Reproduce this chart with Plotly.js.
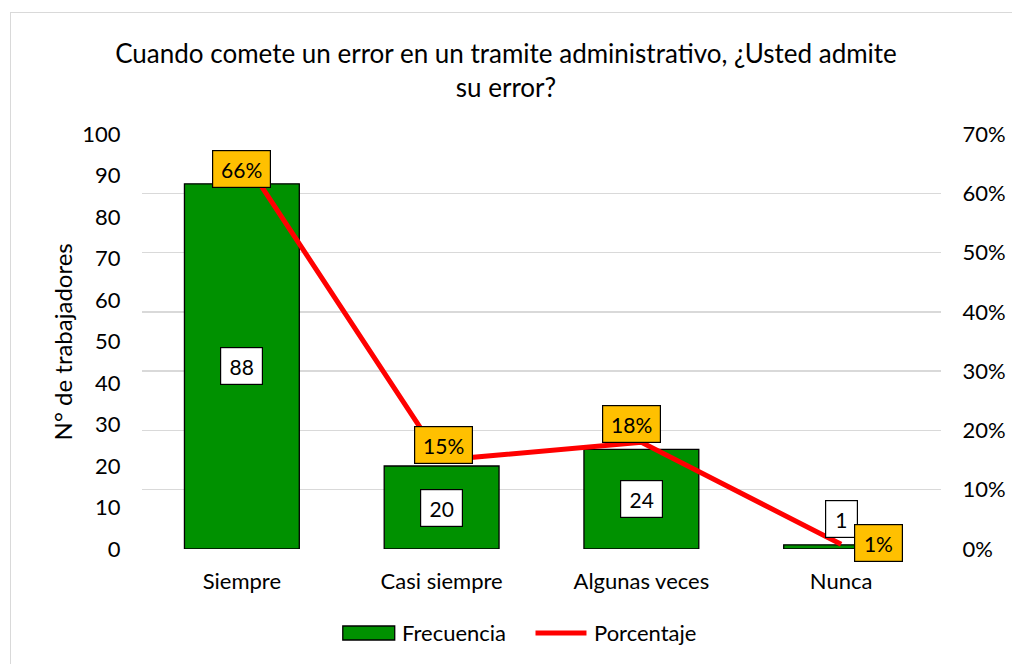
<!DOCTYPE html>
<html>
<head>
<meta charset="utf-8">
<script src="https://cdn.plot.ly/plotly-3.0.1.min.js"></script>
<style>
  html, body { margin: 0; padding: 0; background: #fff; }
  #frame { position: absolute; left: 10px; top: 12px; width: 1010px; height: 670px; border: 1px solid #d9d9d9; box-sizing: border-box; }
  #chart { position: absolute; left: 0; top: 0; width: 1012px; height: 664px; }
</style>
</head>
<body>
<div id="frame"></div>
<div id="chart"></div>
<script>
// ---- data ----
const categories = ["Siempre", "Casi siempre", "Algunas veces", "Nunca"];
const frecuencia = [88, 20, 24, 1];
const porcentaje = [0.662, 0.150, 0.180, 0.008];
const porcentajeLabels = ["66%", "15%", "18%", "1%"];
const seriesNames = ["Frecuencia", "Porcentaje"];
const leftTicks = [0, 10, 20, 30, 40, 50, 60, 70, 80, 90, 100];
const rightTicks = [0, 0.1, 0.2, 0.3, 0.4, 0.5, 0.6, 0.7];
const rightTickLabels = ["0%", "10%", "20%", "30%", "40%", "50%", "60%", "70%"];
const yTitle = "N° de trabajadores";

// ---- styles / placement ----
const FONT = "Lato, 'Open Sans', sans-serif";
const GREEN = "#009100", RED = "#FF0000", GOLD = "#FFC000";
const pctShift = [[0, -12], [2, 15], [-10, 18], [37, 1]];   // [xshift, yshift] px

function boxWidth(t) {
  let w = 20;
  for (const ch of t) w += (ch === "%") ? 16 : 10.5;
  return w;
}

const annotations = [];
frecuencia.forEach((v, i) => {
  const small = v < 5;
  annotations.push({
    x: categories[i], y: small ? v : v / 2, xref: "x", yref: "y",
    text: String(v), showarrow: false,
    yshift: small ? 26 : 0,
    font: {family: FONT, size: 21, color: "#000"},
    bgcolor: "#ffffff", bordercolor: "#000000", borderwidth: 1.2, borderpad: 0,
    width: boxWidth(String(v)), height: 36
  });
});
porcentaje.forEach((p, i) => {
  annotations.push({
    x: categories[i], y: p, xref: "x", yref: "y2",
    text: porcentajeLabels[i], showarrow: false,
    xshift: pctShift[i][0], yshift: pctShift[i][1],
    font: {family: FONT, size: 21, color: "#000"},
    bgcolor: GOLD, bordercolor: "#000000", borderwidth: 1.2, borderpad: 0,
    width: boxWidth(porcentajeLabels[i]), height: 36
  });
});

// y-axis title
annotations.push({xref: "paper", yref: "paper", x: -0.099, y: 0.5, xanchor: "center", yanchor: "middle",
  text: yTitle, textangle: -90, showarrow: false, font: {family: FONT, size: 24, color: "#000"}});

// custom legend (paper coords)
const legY = -0.2024;
annotations.push({xref: "paper", yref: "paper", x: 0.3225, y: legY, xanchor: "left", yanchor: "middle",
  text: seriesNames[0], showarrow: false, font: {family: FONT, size: 22, color: "#000"}});
annotations.push({xref: "paper", yref: "paper", x: 0.5637, y: legY, xanchor: "left", yanchor: "middle",
  text: seriesNames[1], showarrow: false, font: {family: FONT, size: 22, color: "#000"}});
const shapes = [
  {type: "rect", xref: "paper", yref: "paper", x0: 0.2513, x1: 0.3163, y0: -0.2193, y1: -0.1855,
   fillcolor: GREEN, line: {color: "#000", width: 1.3}},
  {type: "line", xref: "paper", yref: "paper", x0: 0.4925, x1: 0.5563, y0: legY, y1: legY,
   line: {color: RED, width: 5}}
];

const traces = [
  {
    type: "bar", name: seriesNames[0], x: categories, y: frecuencia,
    marker: {color: GREEN, line: {color: "#000000", width: 1.3}},
    width: 0.575, yaxis: "y", showlegend: false
  },
  {
    type: "scatter", mode: "lines", name: seriesNames[1], x: categories, y: porcentaje,
    line: {color: RED, width: 5}, yaxis: "y2", showlegend: false
  }
];

const layout = {
  width: 1012, height: 664,
  paper_bgcolor: "rgba(0,0,0,0)", plot_bgcolor: "rgba(0,0,0,0)",
  margin: {l: 142, r: 71, t: 134, b: 115},
  font: {family: FONT, size: 22, color: "#000"},
  title: {
    text: "Cuando comete un error en un tramite administrativo, ¿Usted admite<br>su error?",
    font: {family: FONT, size: 26, color: "#000"},
    x: 0.5, xanchor: "center", y: 0.905, yanchor: "middle", yref: "container"
  },
  showlegend: false,
  xaxis: {
    type: "category", showgrid: false, zeroline: false, showline: false,
    ticks: "outside", ticklen: 13, tickcolor: "rgba(0,0,0,0)",
    tickfont: {family: FONT, size: 22, color: "#000"}, fixedrange: true
  },
  yaxis: {
    range: [0, 100], tickvals: leftTicks, ticktext: leftTicks.map(String),
    showgrid: false, zeroline: false, showline: false,
    ticks: "outside", ticklen: 16, tickcolor: "rgba(0,0,0,0)",
    tickfont: {family: FONT, size: 22, color: "#000"},
    fixedrange: true
  },
  yaxis2: {
    range: [0, 0.7], overlaying: "y", side: "right",
    tickvals: rightTicks, ticktext: rightTickLabels,
    showgrid: true, gridcolor: "#d9d9d9", gridwidth: 1.5,
    zeroline: false, showline: false,
    ticks: "outside", ticklen: 16, tickcolor: "rgba(0,0,0,0)",
    tickfont: {family: FONT, size: 22, color: "#000"}, fixedrange: true
  },
  shapes: shapes,
  annotations: annotations
};

Plotly.newPlot("chart", traces, layout, {displayModeBar: false, staticPlot: true});
</script>
</body>
</html>
